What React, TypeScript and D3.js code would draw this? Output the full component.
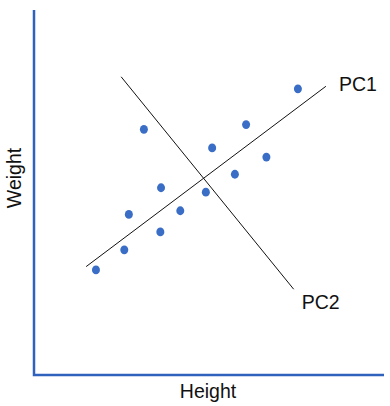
import React from "react";
import * as d3 from "d3";

// observations (height, weight) in arbitrary units
const heights = [1.77, 2.58, 2.71, 3.14, 3.61, 3.63, 4.18, 4.91, 5.09, 5.74, 6.06, 6.64, 7.54];
const weights = [2.88, 3.43, 4.4, 6.73, 3.92, 5.13, 4.5, 5.01, 6.22, 5.5, 6.86, 5.97, 7.84];

// principal component axes: [start, end] as [height, weight]
const pc1 = [[1.49, 2.97], [8.34, 7.91]];
const pc2 = [[2.49, 8.17], [7.42, 2.35]];
const pcLabels = ["PC1", "PC2"];

const width = 390;
const height = 406;
const margin = { top: 10, right: 6, bottom: 31, left: 34 };

const App = () => {
  const x = d3.scaleLinear().domain([0, 10]).range([margin.left, width - margin.right]);
  const y = d3.scaleLinear().domain([0, 10]).range([height - margin.bottom, margin.top]);
  const line = d3
    .line<number[]>()
    .x((d) => x(d[0]))
    .y((d) => y(d[1]));

  const font = "Arial, 'Liberation Sans', sans-serif";
  const axisColor = "#2f62bd";
  const fs = 19.5;

  return (
    <svg
      width={width}
      height={height}
      style={{ position: "absolute", left: 0, top: 0, background: "#fff" }}
      fontFamily={font}
    >
      {/* axes */}
      <path
        d={`M${x(0)},${y(10)}V${y(0)}H${x(10)}`}
        fill="none"
        stroke={axisColor}
        strokeWidth={2.5}
      />

      {/* PC lines */}
      <path d={line(pc1) || ""} stroke="#111" strokeWidth={1} fill="none" />
      <path d={line(pc2) || ""} stroke="#111" strokeWidth={1} fill="none" />
      <text x={x(pc1[1][0]) + 13} y={y(pc1[1][1]) + 5} fontSize={fs} fill="#111">
        {pcLabels[0]}
      </text>
      <text x={x(pc2[1][0]) + 8} y={y(pc2[1][1]) + 20} fontSize={fs} fill="#111">
        {pcLabels[1]}
      </text>

      {/* points */}
      {heights.map((h, i) => (
        <ellipse key={i} cx={x(h)} cy={y(weights[i])} rx={4} ry={4.4} fill="#3a6dc5" />
      ))}

      {/* axis titles */}
      <text x={208} y={398} fontSize={fs} textAnchor="middle" fill="#111">
        Height
      </text>
      <text
        transform={`translate(21,178) rotate(-90)`}
        fontSize={fs}
        textAnchor="middle"
        fill="#111"
      >
        Weight
      </text>
    </svg>
  );
};

export default App;
